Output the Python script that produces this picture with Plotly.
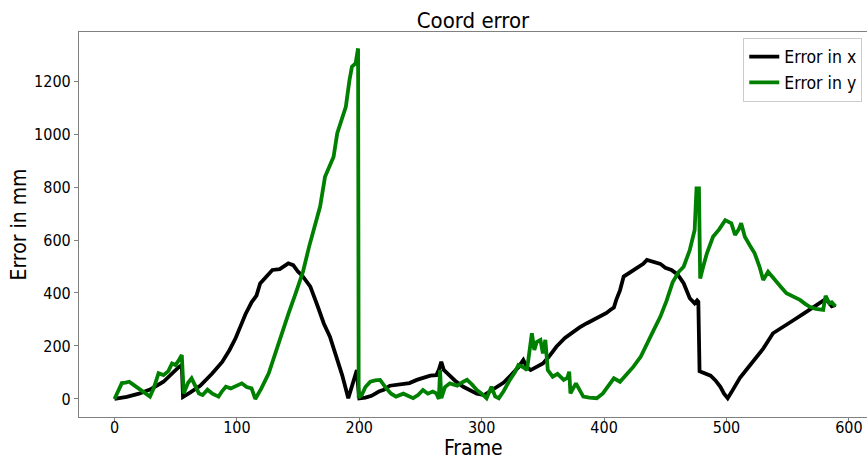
import plotly.graph_objects as go

# ---- Error in x (black) ----
frames_x = [0, 10, 20, 30, 40, 48, 52, 55, 56, 62,
            70, 80, 88, 94, 99, 103, 107, 112, 116, 119,
            124, 129, 135, 138, 142, 146, 150, 153, 157, 160,
            166, 171, 176, 181, 186, 191, 195, 198, 199, 200,
            205, 210, 216, 220, 225, 233, 241, 247, 252, 258,
            263, 265, 267, 269, 272, 278, 285, 290, 296, 302,
            307, 312, 318, 324, 330, 334, 337, 340, 345, 350,
            355, 361, 368, 375, 380, 386, 392, 397, 402, 405,
            408, 410, 413, 416, 420, 424, 428, 432, 435, 438,
            442, 446, 450, 455, 460, 465, 470, 474, 476, 477,
            478, 483, 487, 491, 495, 498, 501, 504, 508, 511,
            514, 518, 522, 530, 538, 546, 555, 563, 571, 576,
            580, 583, 586, 589]
err_x = [0, 8, 20, 38, 65, 103, 118, 128, 8, 25,
         50, 97, 140, 185, 230, 275, 320, 365, 390, 436,
         460, 487, 490, 500, 512, 505, 480, 468, 440, 424,
         350, 285, 235, 165, 90, 3, 60, 109, 50, 2,
         5, 12, 28, 35, 50, 55, 60, 72, 80, 88,
         90, 110, 140, 110, 97, 70, 46, 35, 20, 15,
         30, 45, 62, 90, 120, 147, 120, 109, 120, 134,
         160, 197, 230, 254, 270, 286, 300, 310, 325, 336,
         345, 375, 410, 462, 475, 487, 500, 510, 525, 520,
         515, 510, 495, 487, 470, 437, 380, 361, 372, 367,
         105, 95, 88, 70, 46, 20, 3, 25, 59, 80,
         97, 120, 147, 190, 248, 270, 298, 322, 348, 362,
         374, 368, 350, 355]

# ---- Error in y (green) ----
frames_y = [0, 3, 6, 9, 12, 15, 20, 25, 29, 32,
            36, 40, 44, 47, 50, 53, 55, 56.5, 60, 63,
            66, 69, 72, 76, 80, 85, 88, 91, 95, 100,
            104, 108, 112, 115, 120, 126, 131, 137, 142, 148,
            154, 159, 164, 168, 172, 176, 179, 182, 185, 189,
            192, 194, 197, 199, 199.5, 202, 205, 209, 213, 217,
            222, 226, 230, 236, 244, 248, 252, 256, 260, 263,
            265, 266, 267, 270, 274, 280, 285, 288, 292, 296,
            300, 304, 308, 311, 314, 318, 323, 327, 330, 334,
            337, 341, 343, 345, 348, 350, 352, 354, 358, 362,
            367, 370, 371.5, 372.5, 377, 383, 388, 394, 399, 404,
            408, 413, 418, 424, 430, 435, 440, 446, 451, 456,
            461, 465, 470, 474, 475.5, 477.5, 478.5, 481, 484, 489,
            494, 499, 504, 507, 510, 512, 515, 519, 523, 527,
            530, 534, 538, 541, 545, 549, 555, 560, 564, 568,
            573, 577, 579, 581, 584, 586, 589]
err_y = [0, 30, 60, 62, 65, 55, 40, 21, 9, 40,
         97, 90, 105, 134, 128, 150, 166, 21, 60, 78,
         45, 21, 15, 35, 20, 9, 30, 46, 40, 50,
         59, 45, 40, 0, 40, 97, 170, 248, 320, 399,
         480, 575, 663, 726, 839, 880, 914, 1003, 1050, 1103,
         1204, 1254, 1267, 1323, 5, 15, 45, 65, 70, 72,
         40, 20, 9, 20, 3, 15, 34, 20, 28, 21,
         0, 109, 3, 45, 59, 50, 65, 72, 55, 34,
         20, 3, 46, 10, 3, 30, 72, 100, 128, 120,
         109, 248, 185, 215, 223, 172, 223, 109, 84, 95,
         72, 80, 103, 21, 59, 9, 5, 3, 21, 50,
         78, 65, 90, 122, 160, 210, 255, 311, 370, 440,
         480, 499, 562, 638, 795, 795, 455, 500, 550, 612,
         640, 675, 663, 619, 640, 663, 612, 580, 550, 499,
         449, 480, 460, 443, 420, 399, 385, 374, 360, 348,
         340, 336, 336, 389, 361, 365, 350]

x_ticks = [0, 100, 200, 300, 400, 500, 600]
y_ticks = [0, 200, 400, 600, 800, 1000, 1200]

FONT = "DejaVu Sans Condensed, DejaVu Sans, sans-serif"

fig = go.Figure()
fig.add_trace(go.Scatter(x=frames_x, y=err_x, mode="lines", name="Error in x",
                         line=dict(color="#000000", width=3.8)))
fig.add_trace(go.Scatter(x=frames_y, y=err_y, mode="lines", name="Error in y",
                         line=dict(color="#008000", width=3.8)))

axis_common = dict(showgrid=False, zeroline=False, showline=True, mirror=True,
                   linecolor="#808080", linewidth=1.2, ticks="outside",
                   tickcolor="#808080", ticklen=4, automargin=False,
                   tickfont=dict(size=16, color="#000"))

fig.update_layout(
    width=867, height=457,
    margin=dict(l=79, r=0, t=32, b=40),
    paper_bgcolor="white", plot_bgcolor="white",
    font=dict(family=FONT, color="#000"),
    title=dict(text="Coord error", x=0.5, xanchor="center", xref="paper",
               y=1 - 20 / 457, yanchor="middle", font=dict(size=22)),
    xaxis=dict(range=[-29.0, 614.8], tickvals=x_ticks, ticklabelstandoff=-8,
               **axis_common),
    yaxis=dict(range=[-68, 1385], tickvals=y_ticks, **axis_common),
    legend=dict(x=0.994, xanchor="right", y=0.985, yanchor="top",
                bgcolor="white", bordercolor="#cccccc", borderwidth=1,
                font=dict(size=17.5), tracegroupgap=2),
    showlegend=True,
    annotations=[
        dict(text="Frame", xref="paper", yref="paper", x=0.5, y=-31 / 385,
             xanchor="center", yanchor="middle", showarrow=False, font=dict(size=21),
             borderpad=0),
        dict(text="Error in mm", xref="paper", yref="paper", x=-61 / 788, y=0.5,
             xanchor="center", yanchor="middle", textangle=-90, showarrow=False,
             font=dict(size=21)),
    ],
)

fig.write_html("out.html")
